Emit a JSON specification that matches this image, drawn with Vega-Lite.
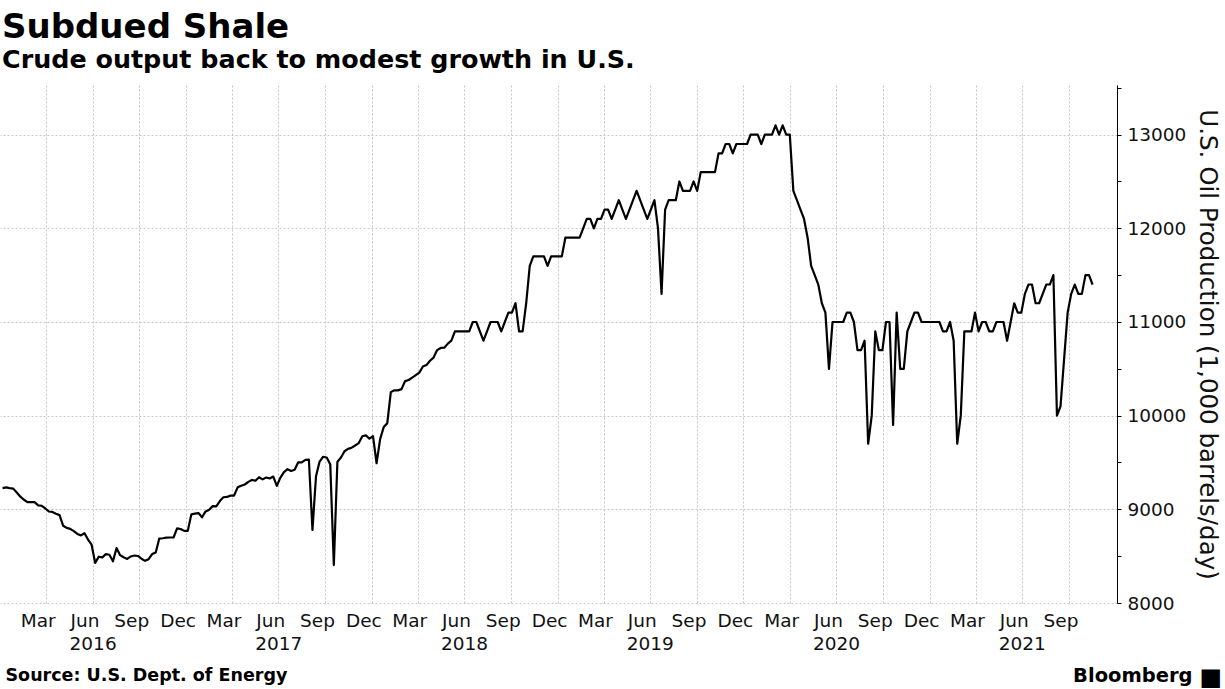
{
  "$schema": "https://vega.github.io/schema/vega-lite/v6.json",
  "width": 1117,
  "height": 518,
  "autosize": {"type": "none"},
  "padding": {"left": 0, "top": 85, "right": 108, "bottom": 86},
  "background": "white",
  "title": {
    "text": "Subdued Shale",
    "subtitle": "Crude output back to modest growth in U.S.",
    "anchor": "start",
    "frame": "group",
    "dx": 2,
    "offset": 12,
    "font": "DejaVu Sans",
    "fontSize": 34,
    "fontWeight": "bold",
    "color": "#000000",
    "subtitleFont": "DejaVu Sans",
    "subtitleFontSize": 25.4,
    "subtitleFontWeight": "bold",
    "subtitleColor": "#000000",
    "subtitlePadding": 3
  },
  "config": {
    "view": {"stroke": null},
    "axis": {"labelFont": "DejaVu Sans", "titleFont": "DejaVu Sans"}
  },
  "data": {
    "values": [
      {"date": "2016-01-06", "value": 9227}, {"date": "2016-01-13", "value": 9235}, {"date": "2016-01-20", "value": 9227}, {"date": "2016-01-27", "value": 9221},
      {"date": "2016-02-03", "value": 9179}, {"date": "2016-02-10", "value": 9135}, {"date": "2016-02-17", "value": 9102}, {"date": "2016-02-24", "value": 9077},
      {"date": "2016-03-02", "value": 9078}, {"date": "2016-03-09", "value": 9077}, {"date": "2016-03-16", "value": 9042}, {"date": "2016-03-23", "value": 9038}, {"date": "2016-03-30", "value": 9009},
      {"date": "2016-04-06", "value": 8977}, {"date": "2016-04-13", "value": 8972}, {"date": "2016-04-20", "value": 8953}, {"date": "2016-04-27", "value": 8938},
      {"date": "2016-05-04", "value": 8825}, {"date": "2016-05-11", "value": 8802}, {"date": "2016-05-18", "value": 8791}, {"date": "2016-05-25", "value": 8767},
      {"date": "2016-06-01", "value": 8737}, {"date": "2016-06-08", "value": 8722}, {"date": "2016-06-15", "value": 8745}, {"date": "2016-06-22", "value": 8677}, {"date": "2016-06-29", "value": 8622},
      {"date": "2016-07-06", "value": 8428}, {"date": "2016-07-13", "value": 8494}, {"date": "2016-07-20", "value": 8487}, {"date": "2016-07-27", "value": 8522},
      {"date": "2016-08-03", "value": 8515}, {"date": "2016-08-10", "value": 8446}, {"date": "2016-08-17", "value": 8586}, {"date": "2016-08-24", "value": 8511}, {"date": "2016-08-31", "value": 8488},
      {"date": "2016-09-07", "value": 8470}, {"date": "2016-09-14", "value": 8497}, {"date": "2016-09-21", "value": 8507}, {"date": "2016-09-28", "value": 8502},
      {"date": "2016-10-05", "value": 8473}, {"date": "2016-10-12", "value": 8450}, {"date": "2016-10-19", "value": 8468}, {"date": "2016-10-26", "value": 8523},
      {"date": "2016-11-02", "value": 8540}, {"date": "2016-11-09", "value": 8688}, {"date": "2016-11-16", "value": 8691}, {"date": "2016-11-23", "value": 8697}, {"date": "2016-11-30", "value": 8699},
      {"date": "2016-12-07", "value": 8699}, {"date": "2016-12-14", "value": 8796}, {"date": "2016-12-21", "value": 8790}, {"date": "2016-12-28", "value": 8770},
      {"date": "2017-01-04", "value": 8770}, {"date": "2017-01-11", "value": 8946}, {"date": "2017-01-18", "value": 8954}, {"date": "2017-01-25", "value": 8960},
      {"date": "2017-02-01", "value": 8915}, {"date": "2017-02-08", "value": 8978}, {"date": "2017-02-15", "value": 8996}, {"date": "2017-02-22", "value": 9034},
      {"date": "2017-03-01", "value": 9032}, {"date": "2017-03-08", "value": 9088}, {"date": "2017-03-15", "value": 9129}, {"date": "2017-03-22", "value": 9132}, {"date": "2017-03-29", "value": 9146},
      {"date": "2017-04-05", "value": 9147}, {"date": "2017-04-12", "value": 9235}, {"date": "2017-04-19", "value": 9252}, {"date": "2017-04-26", "value": 9265},
      {"date": "2017-05-03", "value": 9293}, {"date": "2017-05-10", "value": 9314}, {"date": "2017-05-17", "value": 9305}, {"date": "2017-05-24", "value": 9342}, {"date": "2017-05-31", "value": 9320},
      {"date": "2017-06-07", "value": 9340}, {"date": "2017-06-14", "value": 9330}, {"date": "2017-06-21", "value": 9350}, {"date": "2017-06-28", "value": 9250},
      {"date": "2017-07-05", "value": 9338}, {"date": "2017-07-12", "value": 9397}, {"date": "2017-07-19", "value": 9429}, {"date": "2017-07-26", "value": 9410},
      {"date": "2017-08-02", "value": 9423}, {"date": "2017-08-09", "value": 9502}, {"date": "2017-08-16", "value": 9502}, {"date": "2017-08-23", "value": 9528}, {"date": "2017-08-30", "value": 9530},
      {"date": "2017-09-06", "value": 8781}, {"date": "2017-09-13", "value": 9353}, {"date": "2017-09-20", "value": 9510}, {"date": "2017-09-27", "value": 9561},
      {"date": "2017-10-04", "value": 9553}, {"date": "2017-10-11", "value": 9480}, {"date": "2017-10-18", "value": 8405}, {"date": "2017-10-25", "value": 9507},
      {"date": "2017-11-01", "value": 9553}, {"date": "2017-11-08", "value": 9620}, {"date": "2017-11-15", "value": 9645}, {"date": "2017-11-22", "value": 9658}, {"date": "2017-11-29", "value": 9682},
      {"date": "2017-12-06", "value": 9707}, {"date": "2017-12-13", "value": 9780}, {"date": "2017-12-20", "value": 9789}, {"date": "2017-12-27", "value": 9754},
      {"date": "2018-01-03", "value": 9782}, {"date": "2018-01-10", "value": 9492}, {"date": "2018-01-17", "value": 9750}, {"date": "2018-01-24", "value": 9878}, {"date": "2018-01-31", "value": 9919},
      {"date": "2018-02-07", "value": 10251}, {"date": "2018-02-14", "value": 10271}, {"date": "2018-02-21", "value": 10270}, {"date": "2018-02-28", "value": 10283},
      {"date": "2018-03-07", "value": 10369}, {"date": "2018-03-14", "value": 10381}, {"date": "2018-03-21", "value": 10407}, {"date": "2018-03-28", "value": 10433},
      {"date": "2018-04-04", "value": 10460}, {"date": "2018-04-11", "value": 10525}, {"date": "2018-04-18", "value": 10540}, {"date": "2018-04-25", "value": 10586},
      {"date": "2018-05-02", "value": 10620}, {"date": "2018-05-09", "value": 10700}, {"date": "2018-05-16", "value": 10723}, {"date": "2018-05-23", "value": 10725}, {"date": "2018-05-30", "value": 10769},
      {"date": "2018-06-06", "value": 10800}, {"date": "2018-06-13", "value": 10900}, {"date": "2018-06-20", "value": 10900}, {"date": "2018-06-27", "value": 10900},
      {"date": "2018-07-04", "value": 10900}, {"date": "2018-07-11", "value": 10900}, {"date": "2018-07-18", "value": 11000}, {"date": "2018-07-25", "value": 11000},
      {"date": "2018-08-01", "value": 10900}, {"date": "2018-08-08", "value": 10800}, {"date": "2018-08-15", "value": 10900}, {"date": "2018-08-22", "value": 11000}, {"date": "2018-08-29", "value": 11000},
      {"date": "2018-09-05", "value": 11000}, {"date": "2018-09-12", "value": 10900}, {"date": "2018-09-19", "value": 11000}, {"date": "2018-09-26", "value": 11100},
      {"date": "2018-10-03", "value": 11100}, {"date": "2018-10-10", "value": 11200}, {"date": "2018-10-17", "value": 10900}, {"date": "2018-10-24", "value": 10900}, {"date": "2018-10-31", "value": 11200},
      {"date": "2018-11-07", "value": 11600}, {"date": "2018-11-14", "value": 11700}, {"date": "2018-11-21", "value": 11700}, {"date": "2018-11-28", "value": 11700},
      {"date": "2018-12-05", "value": 11700}, {"date": "2018-12-12", "value": 11600}, {"date": "2018-12-19", "value": 11700}, {"date": "2018-12-26", "value": 11700},
      {"date": "2019-01-02", "value": 11700}, {"date": "2019-01-09", "value": 11700}, {"date": "2019-01-16", "value": 11900}, {"date": "2019-01-23", "value": 11900}, {"date": "2019-01-30", "value": 11900},
      {"date": "2019-02-06", "value": 11900}, {"date": "2019-02-13", "value": 11900}, {"date": "2019-02-20", "value": 12000}, {"date": "2019-02-27", "value": 12100},
      {"date": "2019-03-06", "value": 12100}, {"date": "2019-03-13", "value": 12000}, {"date": "2019-03-20", "value": 12100}, {"date": "2019-03-27", "value": 12100},
      {"date": "2019-04-03", "value": 12200}, {"date": "2019-04-10", "value": 12200}, {"date": "2019-04-17", "value": 12100}, {"date": "2019-04-24", "value": 12200},
      {"date": "2019-05-01", "value": 12300}, {"date": "2019-05-08", "value": 12200}, {"date": "2019-05-15", "value": 12100}, {"date": "2019-05-22", "value": 12200}, {"date": "2019-05-29", "value": 12300},
      {"date": "2019-06-05", "value": 12400}, {"date": "2019-06-12", "value": 12300}, {"date": "2019-06-19", "value": 12200}, {"date": "2019-06-26", "value": 12100},
      {"date": "2019-07-03", "value": 12200}, {"date": "2019-07-10", "value": 12300}, {"date": "2019-07-17", "value": 12000}, {"date": "2019-07-24", "value": 11300}, {"date": "2019-07-31", "value": 12200},
      {"date": "2019-08-07", "value": 12300}, {"date": "2019-08-14", "value": 12300}, {"date": "2019-08-21", "value": 12300}, {"date": "2019-08-28", "value": 12500},
      {"date": "2019-09-04", "value": 12400}, {"date": "2019-09-11", "value": 12400}, {"date": "2019-09-18", "value": 12400}, {"date": "2019-09-25", "value": 12500},
      {"date": "2019-10-02", "value": 12400}, {"date": "2019-10-09", "value": 12600}, {"date": "2019-10-16", "value": 12600}, {"date": "2019-10-23", "value": 12600}, {"date": "2019-10-30", "value": 12600},
      {"date": "2019-11-06", "value": 12600}, {"date": "2019-11-13", "value": 12800}, {"date": "2019-11-20", "value": 12800}, {"date": "2019-11-27", "value": 12900},
      {"date": "2019-12-04", "value": 12900}, {"date": "2019-12-11", "value": 12800}, {"date": "2019-12-18", "value": 12900}, {"date": "2019-12-25", "value": 12900},
      {"date": "2020-01-01", "value": 12900}, {"date": "2020-01-08", "value": 12900}, {"date": "2020-01-15", "value": 13000}, {"date": "2020-01-22", "value": 13000}, {"date": "2020-01-29", "value": 13000},
      {"date": "2020-02-05", "value": 12900}, {"date": "2020-02-12", "value": 13000}, {"date": "2020-02-19", "value": 13000}, {"date": "2020-02-26", "value": 13000},
      {"date": "2020-03-04", "value": 13100}, {"date": "2020-03-11", "value": 13000}, {"date": "2020-03-18", "value": 13100}, {"date": "2020-03-25", "value": 13000},
      {"date": "2020-04-01", "value": 13000}, {"date": "2020-04-08", "value": 12400}, {"date": "2020-04-15", "value": 12300}, {"date": "2020-04-22", "value": 12200}, {"date": "2020-04-29", "value": 12100},
      {"date": "2020-05-06", "value": 11900}, {"date": "2020-05-13", "value": 11600}, {"date": "2020-05-20", "value": 11500}, {"date": "2020-05-27", "value": 11400},
      {"date": "2020-06-03", "value": 11200}, {"date": "2020-06-10", "value": 11100}, {"date": "2020-06-17", "value": 10500}, {"date": "2020-06-24", "value": 11000},
      {"date": "2020-07-01", "value": 11000}, {"date": "2020-07-08", "value": 11000}, {"date": "2020-07-15", "value": 11000}, {"date": "2020-07-22", "value": 11100}, {"date": "2020-07-29", "value": 11100},
      {"date": "2020-08-05", "value": 11000}, {"date": "2020-08-12", "value": 10700}, {"date": "2020-08-19", "value": 10700}, {"date": "2020-08-26", "value": 10800},
      {"date": "2020-09-02", "value": 9700}, {"date": "2020-09-09", "value": 10000}, {"date": "2020-09-16", "value": 10900}, {"date": "2020-09-23", "value": 10700}, {"date": "2020-09-30", "value": 10700},
      {"date": "2020-10-07", "value": 11000}, {"date": "2020-10-14", "value": 11000}, {"date": "2020-10-21", "value": 9900}, {"date": "2020-10-28", "value": 11100},
      {"date": "2020-11-04", "value": 10500}, {"date": "2020-11-11", "value": 10500}, {"date": "2020-11-18", "value": 10900}, {"date": "2020-11-25", "value": 11000},
      {"date": "2020-12-02", "value": 11100}, {"date": "2020-12-09", "value": 11100}, {"date": "2020-12-16", "value": 11000}, {"date": "2020-12-23", "value": 11000}, {"date": "2020-12-30", "value": 11000},
      {"date": "2021-01-06", "value": 11000}, {"date": "2021-01-13", "value": 11000}, {"date": "2021-01-20", "value": 11000}, {"date": "2021-01-27", "value": 10900},
      {"date": "2021-02-03", "value": 10900}, {"date": "2021-02-10", "value": 11000}, {"date": "2021-02-17", "value": 10800}, {"date": "2021-02-24", "value": 9700},
      {"date": "2021-03-03", "value": 10000}, {"date": "2021-03-10", "value": 10900}, {"date": "2021-03-17", "value": 10900}, {"date": "2021-03-24", "value": 10900}, {"date": "2021-03-31", "value": 11100},
      {"date": "2021-04-07", "value": 10900}, {"date": "2021-04-14", "value": 11000}, {"date": "2021-04-21", "value": 11000}, {"date": "2021-04-28", "value": 10900},
      {"date": "2021-05-05", "value": 10900}, {"date": "2021-05-12", "value": 11000}, {"date": "2021-05-19", "value": 11000}, {"date": "2021-05-26", "value": 11000},
      {"date": "2021-06-02", "value": 10800}, {"date": "2021-06-09", "value": 11000}, {"date": "2021-06-16", "value": 11200}, {"date": "2021-06-23", "value": 11100}, {"date": "2021-06-30", "value": 11100},
      {"date": "2021-07-07", "value": 11300}, {"date": "2021-07-14", "value": 11400}, {"date": "2021-07-21", "value": 11400}, {"date": "2021-07-28", "value": 11200},
      {"date": "2021-08-04", "value": 11200}, {"date": "2021-08-11", "value": 11300}, {"date": "2021-08-18", "value": 11400}, {"date": "2021-08-25", "value": 11400},
      {"date": "2021-09-01", "value": 11500}, {"date": "2021-09-08", "value": 10000}, {"date": "2021-09-15", "value": 10100}, {"date": "2021-09-22", "value": 10600}, {"date": "2021-09-29", "value": 11100},
      {"date": "2021-10-06", "value": 11300}, {"date": "2021-10-13", "value": 11400}, {"date": "2021-10-20", "value": 11300}, {"date": "2021-10-27", "value": 11300},
      {"date": "2021-11-03", "value": 11500}, {"date": "2021-11-10", "value": 11500}, {"date": "2021-11-17", "value": 11400}
    ]
  },
  "layer": [
    {
      "mark": {"type": "line", "color": "#000000", "strokeWidth": 2.2, "strokeJoin": "round"},
      "encoding": {
        "x": {
          "field": "date", "type": "temporal",
          "scale": {"type": "utc", "domain": [{"year": 2016, "month": 1, "date": 1, "utc": true}, {"year": 2022, "month": 1, "date": 4, "utc": true}]},
          "axis": {
            "orient": "bottom",
            "values": [
              {"year": 2016, "month": 4, "date": 1, "utc": true}, {"year": 2016, "month": 7, "date": 1, "utc": true}, {"year": 2016, "month": 10, "date": 1, "utc": true},
              {"year": 2017, "month": 1, "date": 1, "utc": true}, {"year": 2017, "month": 4, "date": 1, "utc": true}, {"year": 2017, "month": 7, "date": 1, "utc": true}, {"year": 2017, "month": 10, "date": 1, "utc": true},
              {"year": 2018, "month": 1, "date": 1, "utc": true}, {"year": 2018, "month": 4, "date": 1, "utc": true}, {"year": 2018, "month": 7, "date": 1, "utc": true}, {"year": 2018, "month": 10, "date": 1, "utc": true},
              {"year": 2019, "month": 1, "date": 1, "utc": true}, {"year": 2019, "month": 4, "date": 1, "utc": true}, {"year": 2019, "month": 7, "date": 1, "utc": true}, {"year": 2019, "month": 10, "date": 1, "utc": true},
              {"year": 2020, "month": 1, "date": 1, "utc": true}, {"year": 2020, "month": 4, "date": 1, "utc": true}, {"year": 2020, "month": 7, "date": 1, "utc": true}, {"year": 2020, "month": 10, "date": 1, "utc": true},
              {"year": 2021, "month": 1, "date": 1, "utc": true}, {"year": 2021, "month": 4, "date": 1, "utc": true}, {"year": 2021, "month": 7, "date": 1, "utc": true}, {"year": 2021, "month": 10, "date": 1, "utc": true}
            ],
            "labels": false, "ticks": false, "domain": false,
            "grid": true, "gridColor": "#c4c4c4", "gridDash": [2, 2], "gridWidth": 1,
            "title": "■", "titleFont": "DejaVu Sans", "titleFontSize": 24, "titleColor": "#000000",
            "titleX": 1199, "titleY": 81, "titleAlign": "left", "titleBaseline": "alphabetic", "titleAngle": 0
          }
        },
        "y": {
          "field": "value", "type": "quantitative",
          "scale": {"domain": [8000, 13530], "nice": false, "zero": false},
          "axis": {
            "orient": "right",
            "values": [8000, 8500, 9000, 9500, 10000, 10500, 11000, 11500, 12000, 12500, 13000, 13500],
            "format": "d",
            "labelExpr": "datum.value % 1000 === 0 ? datum.label : ''",
            "labelFontSize": 18.5, "labelColor": "#111111", "labelPadding": 6,
            "domain": true, "domainColor": "#000000", "domainWidth": 1,
            "ticks": true, "tickColor": "#000000", "tickSize": 4,
            "grid": true, "gridColor": "#c4c4c4", "gridDash": [2, 2],
            "gridOpacity": {"condition": {"test": "datum.value % 1000 !== 0", "value": 0}, "value": 1},
            "title": "U.S. Oil Production (1,000 barrels/day)",
            "titleFontSize": 24.5, "titleFontWeight": "normal", "titleColor": "#111111", "titlePadding": 9
          }
        }
      }
    },
    {
      "mark": {"type": "line", "strokeOpacity": 0},
      "encoding": {
        "x": {
          "field": "date", "type": "temporal",
          "axis": {
            "orient": "bottom",
            "values": [
              {"year": 2016, "month": 3, "date": 15, "utc": true}, {"year": 2016, "month": 6, "date": 15, "utc": true}, {"year": 2016, "month": 9, "date": 15, "utc": true}, {"year": 2016, "month": 12, "date": 15, "utc": true},
              {"year": 2017, "month": 3, "date": 15, "utc": true}, {"year": 2017, "month": 6, "date": 15, "utc": true}, {"year": 2017, "month": 9, "date": 15, "utc": true}, {"year": 2017, "month": 12, "date": 15, "utc": true},
              {"year": 2018, "month": 3, "date": 15, "utc": true}, {"year": 2018, "month": 6, "date": 15, "utc": true}, {"year": 2018, "month": 9, "date": 15, "utc": true}, {"year": 2018, "month": 12, "date": 15, "utc": true},
              {"year": 2019, "month": 3, "date": 15, "utc": true}, {"year": 2019, "month": 6, "date": 15, "utc": true}, {"year": 2019, "month": 9, "date": 15, "utc": true}, {"year": 2019, "month": 12, "date": 15, "utc": true},
              {"year": 2020, "month": 3, "date": 15, "utc": true}, {"year": 2020, "month": 6, "date": 15, "utc": true}, {"year": 2020, "month": 9, "date": 15, "utc": true}, {"year": 2020, "month": 12, "date": 15, "utc": true},
              {"year": 2021, "month": 3, "date": 15, "utc": true}, {"year": 2021, "month": 6, "date": 15, "utc": true}, {"year": 2021, "month": 9, "date": 15, "utc": true}
            ],
            "format": "%b",
            "labelFontSize": 18.5, "labelColor": "#111111", "labelPadding": 8, "labelOverlap": false, "labelFlush": false,
            "ticks": false, "domain": false, "grid": false,
            "title": "Bloomberg", "titleFont": "DejaVu Sans", "titleFontSize": 19.5, "titleFontWeight": "bold", "titleColor": "#000000",
            "titleX": 1192, "titleY": 78, "titleAlign": "right", "titleBaseline": "alphabetic", "titleAngle": 0
          }
        },
        "y": {"field": "value", "type": "quantitative", "axis": null}
      }
    },
    {
      "mark": {"type": "line", "strokeOpacity": 0},
      "encoding": {
        "x": {
          "field": "date", "type": "temporal",
          "axis": {
            "orient": "bottom",
            "values": [
              {"year": 2016, "month": 7, "date": 1, "utc": true}, {"year": 2017, "month": 7, "date": 1, "utc": true}, {"year": 2018, "month": 7, "date": 1, "utc": true},
              {"year": 2019, "month": 7, "date": 1, "utc": true}, {"year": 2020, "month": 7, "date": 1, "utc": true}, {"year": 2021, "month": 7, "date": 1, "utc": true}
            ],
            "format": "%Y",
            "labelFontSize": 18.5, "labelColor": "#111111", "labelPadding": 31, "labelOverlap": false, "labelFlush": false,
            "ticks": false, "domain": false, "grid": false,
            "title": "Source: U.S. Dept. of Energy", "titleFont": "DejaVu Sans", "titleFontSize": 17.5, "titleFontWeight": "bold", "titleColor": "#000000",
            "titleX": 5, "titleY": 77, "titleAlign": "left", "titleBaseline": "alphabetic", "titleAngle": 0
          }
        },
        "y": {"field": "value", "type": "quantitative", "axis": null}
      }
    }
  ],
  "resolve": {"axis": {"x": "independent", "y": "independent"}}
}
